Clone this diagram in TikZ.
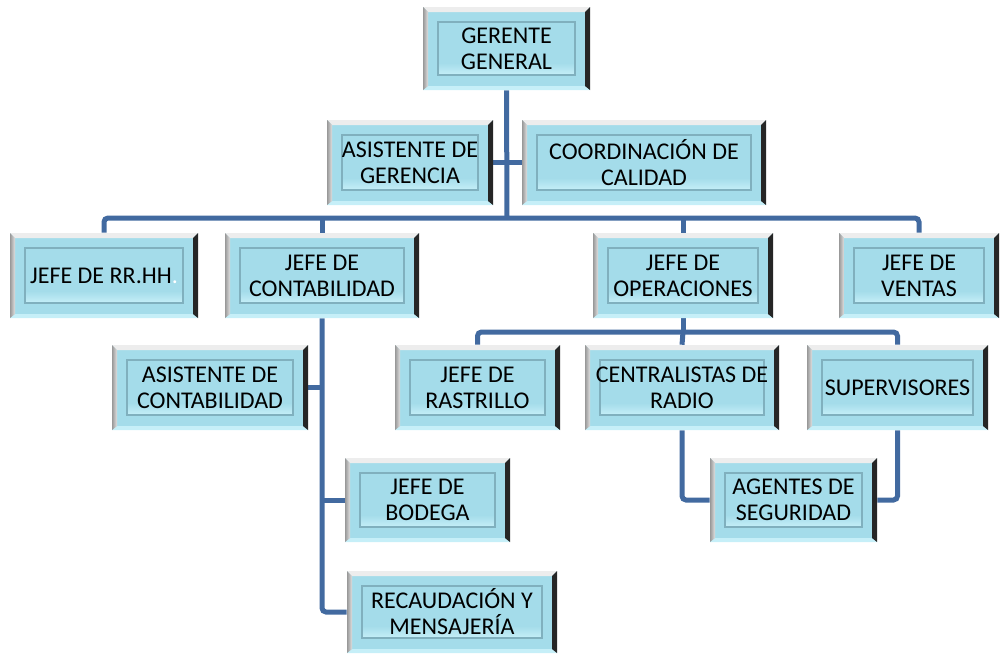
\documentclass[tikz,border=0pt]{standalone}
\usepackage{fontspec}
\setmainfont{Carlito}
\usetikzlibrary{calc,backgrounds}

\definecolor{boxblue}{RGB}{164,220,234}
\definecolor{boxlight}{RGB}{198,239,248}
\definecolor{innerline}{RGB}{128,176,190}
\definecolor{linkblue}{RGB}{66,106,160}

\tikzset{
  orgbox/.style 2 args={
    rectangle, inner sep=0pt, minimum width=#1, minimum height=#2,
    fill=boxblue, align=center, text=black,
    font=\fontsize{18}{19.5}\selectfont,
    path picture={
      \coordinate (bvA) at (path picture bounding box.north west);
      \coordinate (bvB) at (path picture bounding box.north east);
      \coordinate (bvC) at (path picture bounding box.south east);
      \coordinate (bvD) at (path picture bounding box.south west);
      % top and bottom bevel
      \fill[black!7] (bvA) -- (bvB) -- ($(bvB)+(-5,5)$) -- ($(bvA)+(5,5)$) -- cycle;
      \fill[boxlight] (bvD) -- (bvC) -- ($(bvC)+(-5,-4)$) -- ($(bvD)+(5,-4)$) -- cycle;
      % left and right bevel
      \shade[left color=black!40, right color=black!12]
        (bvA) -- ($(bvA)+(5,5)$) -- ($(bvD)+(5,-4)$) -- (bvD) -- cycle;
      \fill[black!85] (bvB) -- (bvC) -- ($(bvC)+(-5,-4)$) -- ($(bvB)+(-5,5)$) -- cycle;
      % inner panel
      \shade[top color=boxblue, bottom color=boxlight]
        ($(bvD)+(15,-27)$) rectangle ($(bvC)+(-15,-15)$);
      \draw[innerline, line width=1.1pt]
        ($(bvA)+(15,15)$) rectangle ($(bvC)+(-15,-15)$);
    }
  },
  link/.style={draw=linkblue, line width=3.75pt, rounded corners=3pt}
}

% name, left, top, right, bottom, text
\newcommand\orgunit[6]{%
  \pgfmathsetmacro\orgw{(#4-#2)*0.75}%
  \pgfmathsetmacro\orgh{(#5-#3)*0.75}%
  \node[orgbox={\orgw pt}{\orgh pt}] (#1) at ({(#2+#4)/2},{(#3+#5)/2}) {#6};}

\begin{document}
\begin{tikzpicture}[x=0.75pt,y=-0.75pt]
  \useasboundingbox (0,0) rectangle (1002,653);

  % top management
  \orgunit{gg}{423}{7}{590}{90}{GERENTE\\GENERAL}
  \orgunit{asg}{327}{120}{493}{205}{ASISTENTE DE\\GERENCIA}
  \orgunit{cc}{522}{120}{766}{205}{COORDINACIÓN DE\\CALIDAD}

  % department heads
  \orgunit{jrh}{10}{233}{198}{318}{JEFE DE RR.HH\textcolor{white}{.}}
  \orgunit{jc}{225}{233}{419}{318}{JEFE DE\\CONTABILIDAD}
  \orgunit{jo}{593}{233}{773}{318}{JEFE DE\\OPERACIONES}
  \orgunit{jv}{839}{233}{999}{318}{JEFE DE\\VENTAS}

  % accounting branch
  \orgunit{ac}{112}{345}{308}{430}{ASISTENTE DE\\CONTABILIDAD}
  \orgunit{jb}{345}{458}{510}{542}{JEFE DE\\BODEGA}
  \orgunit{rm}{347}{571}{557}{653}{RECAUDACIÓN Y\\MENSAJERÍA}

  % operations branch
  \orgunit{jr}{395}{345}{560}{430}{JEFE DE\\RASTRILLO}
  \orgunit{cr}{585}{345}{779}{430}{CENTRALISTAS DE\\RADIO}
  \orgunit{sup}{807}{345}{988}{430}{SUPERVISORES}
  \orgunit{agt}{710}{458}{877}{542}{AGENTES DE\\SEGURIDAD}

  \coordinate (busA) at (507,218);
  \coordinate (busB) at (683,332);

  \begin{pgfonlayer}{background}
    \draw[link] (gg.south) -- (busA);
    \draw[link] (asg.east) -- (cc.west);
    \draw[link] (jrh.north) |- (busA) -| (jv.north);
    \draw[link] (jc.north) -- (jc.north |- busA);
    \draw[link] (jo.north) -- (jo.north |- busA);

    \draw[link] (jo.south) -- (busB);
    \draw[link] (jr.north) |- (busB) -| (sup.north);
    \draw[link] (cr.north) -- (busB);
    \draw[link] (cr.south) |- (agt.west);
    \draw[link] (sup.south) |- (agt.east);

    \draw[link] (jc.south) |- (rm.west);
    \draw[link] (ac.east) -- (ac.east -| jc.south);
    \draw[link] (jb.west) -- (jb.west -| jc.south);
  \end{pgfonlayer}
\end{tikzpicture}
\end{document}
